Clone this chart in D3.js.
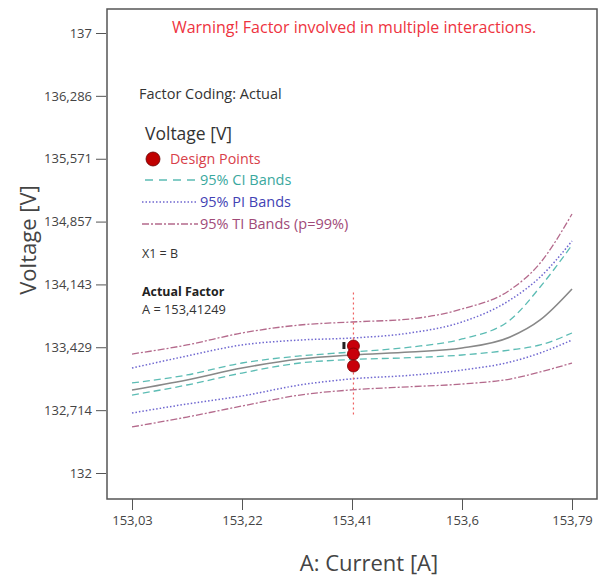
<!DOCTYPE html>
<html><head><meta charset="utf-8">
<script src="https://cdn.jsdelivr.net/npm/d3@7"></script>
<style>body{margin:0;background:#fff}text{font-family:"Open Sans",sans-serif}</style>
</head><body>
<svg id="c" width="603" height="580"></svg>
<script>
const current = [153.03, 153.125, 153.22, 153.32, 153.41, 153.51, 153.6, 153.683, 153.735, 153.79];
const meanV   = [132.943, 133.057, 133.193, 133.295, 133.341, 133.375, 133.420, 133.545, 133.739, 134.091];
const ciUpper = [133.023, 133.114, 133.250, 133.330, 133.375, 133.430, 133.523, 133.739, 134.114, 134.591];
const ciLower = [132.886, 133.000, 133.136, 133.250, 133.290, 133.310, 133.341, 133.398, 133.455, 133.591];
const piUpper = [133.193, 133.330, 133.455, 133.511, 133.534, 133.591, 133.716, 133.966, 134.227, 134.636];
const piLower = [132.682, 132.784, 132.875, 133.000, 133.070, 133.110, 133.170, 133.261, 133.364, 133.511];
const tiUpper = [133.352, 133.455, 133.591, 133.682, 133.716, 133.750, 133.864, 134.080, 134.386, 134.943];
const tiLower = [132.523, 132.636, 132.761, 132.886, 132.945, 132.980, 133.011, 133.068, 133.148, 133.250];
const designX = [153.41249, 153.41249, 153.41249];
const designY = [133.443, 133.352, 133.216];
const xTickLabels = ["153,03", "153,22", "153,41", "153,6", "153,79"];
const yTickLabels = ["132", "132,714", "133,429", "134,143", "134,857", "135,571", "136,286", "137"];
const actualA = 153.41249;

const svg = d3.select("#c");
const x = d3.scaleLinear().domain([153.03, 153.79]).range([132, 572]);
const y = d3.scaleLinear().domain([132, 137]).range([473, 33]);
const num = s => parseFloat(s.replace(",", "."));
const L = 107, R = 597, T = 9, B = 499;

// frame
svg.append("rect").attr("x", L).attr("y", T).attr("width", R - L).attr("height", B - T)
  .attr("fill", "none").attr("stroke", "#555").attr("stroke-width", 1.5);

// y axis
const yAxis = d3.axisLeft(y).tickValues(yTickLabels.map(num))
  .tickFormat((d, i) => yTickLabels[i]).tickSize(10).tickPadding(4);
const gy = svg.append("g").attr("transform", `translate(${L - 1},0)`).call(yAxis);
gy.select(".domain").remove();
gy.selectAll(".tick line").attr("stroke", "#555");
gy.selectAll(".tick text").attr("fill", "#444").style("font-size", "13px");

// x axis
const xAxis = d3.axisBottom(x).tickValues(xTickLabels.map(num))
  .tickFormat((d, i) => xTickLabels[i]).tickSize(11).tickPadding(6);
const gx = svg.append("g").attr("transform", `translate(0,${B})`).call(xAxis);
gx.select(".domain").remove();
gx.selectAll(".tick line").attr("stroke", "#555");
gx.selectAll(".tick text").attr("fill", "#444").style("font-size", "13px");

// axis titles
svg.append("text").attr("transform", "translate(36,240) rotate(-90)").attr("text-anchor", "middle")
  .attr("fill", "#444").style("font-size", "22px").text("Voltage [V]");
svg.append("text").attr("x", 369).attr("y", 571).attr("text-anchor", "middle")
  .attr("fill", "#444").style("font-size", "22px").text("A: Current [A]");

// curves
const line = d3.line().x((d, i) => x(current[i])).y(d => y(d)).curve(d3.curveMonotoneX);
const styles = [
  {data: tiUpper, color: "#b46a8c", dash: "7,2,2,2", w: 1.3},
  {data: tiLower, color: "#b46a8c", dash: "7,2,2,2", w: 1.3},
  {data: piUpper, color: "#6f67d0", dash: "1.5,2", w: 1.5},
  {data: piLower, color: "#6f67d0", dash: "1.5,2", w: 1.5},
  {data: ciUpper, color: "#5cbcb4", dash: "7,4", w: 1.3},
  {data: ciLower, color: "#5cbcb4", dash: "7,4", w: 1.3},
  {data: meanV, color: "#888", dash: null, w: 1.6}
];
styles.forEach(s => {
  svg.append("path").attr("d", line(s.data)).attr("fill", "none")
    .attr("stroke", s.color).attr("stroke-width", s.w)
    .attr("stroke-dasharray", s.dash);
});

// actual factor vertical line
svg.append("line").attr("x1", x(actualA)).attr("x2", x(actualA))
  .attr("y1", y(134.05)).attr("y2", y(132.66))
  .attr("stroke", "#f06060").attr("stroke-width", 1.2).attr("stroke-dasharray", "2,3");

// small marker
svg.append("rect").attr("x", x(actualA) - 11).attr("y", y(133.443) - 4).attr("width", 3).attr("height", 7).attr("fill", "#222");

// design points
svg.selectAll("circle.dp").data(designY).enter().append("circle").attr("class", "dp")
  .attr("cx", (d, i) => x(designX[i])).attr("cy", d => y(d)).attr("r", 6)
  .attr("fill", "#c8000a").attr("stroke", "#700").attr("stroke-width", 0.8);

// annotations
svg.append("text").attr("x", 354).attr("y", 33).attr("text-anchor", "middle")
  .attr("fill", "#ee3340").style("font-size", "16px").text("Warning! Factor involved in multiple interactions.");
svg.append("text").attr("x", 139).attr("y", 99).attr("fill", "#333").style("font-size", "14.5px").text("Factor Coding: Actual");
svg.append("text").attr("x", 145).attr("y", 140).attr("fill", "#333").style("font-size", "17.5px").text("Voltage [V]");

// legend
svg.append("circle").attr("cx", 153).attr("cy", 159).attr("r", 7).attr("fill", "#c00000").attr("stroke", "#600").attr("stroke-width", 0.8);
svg.append("text").attr("x", 170).attr("y", 164).attr("fill", "#d8404a").style("font-size", "14.3px").text("Design Points");
const leg = [
  {y: 180, x1: 145, color: "#5cbcb4", dash: "8,6", w: 1.3, text: "95% CI Bands", tc: "#3aa89e"},
  {y: 202, x1: 142, color: "#6f67d0", dash: "1.5,2", w: 1.5, text: "95% PI Bands", tc: "#4242b4"},
  {y: 224, x1: 142, color: "#b46a8c", dash: "7,2,2,2", w: 1.3, text: "95% TI Bands (p=99%)", tc: "#a04a78"}
];
leg.forEach(l => {
  svg.append("line").attr("x1", l.x1).attr("x2", 198).attr("y1", l.y).attr("y2", l.y)
    .attr("stroke", l.color).attr("stroke-width", l.w).attr("stroke-dasharray", l.dash);
  svg.append("text").attr("x", 200).attr("y", l.y + 5).attr("fill", l.tc).style("font-size", "14.5px").text(l.text);
});
svg.append("text").attr("x", 142).attr("y", 258).attr("fill", "#333").style("font-size", "12.5px").text("X1 = B");
svg.append("text").attr("x", 142).attr("y", 296).attr("fill", "#222").style("font-size", "12.4px").style("font-weight", "bold").text("Actual Factor");
svg.append("text").attr("x", 142).attr("y", 314).attr("fill", "#333").style("font-size", "12.8px").text("A = 153,41249");
</script>
</body></html>
